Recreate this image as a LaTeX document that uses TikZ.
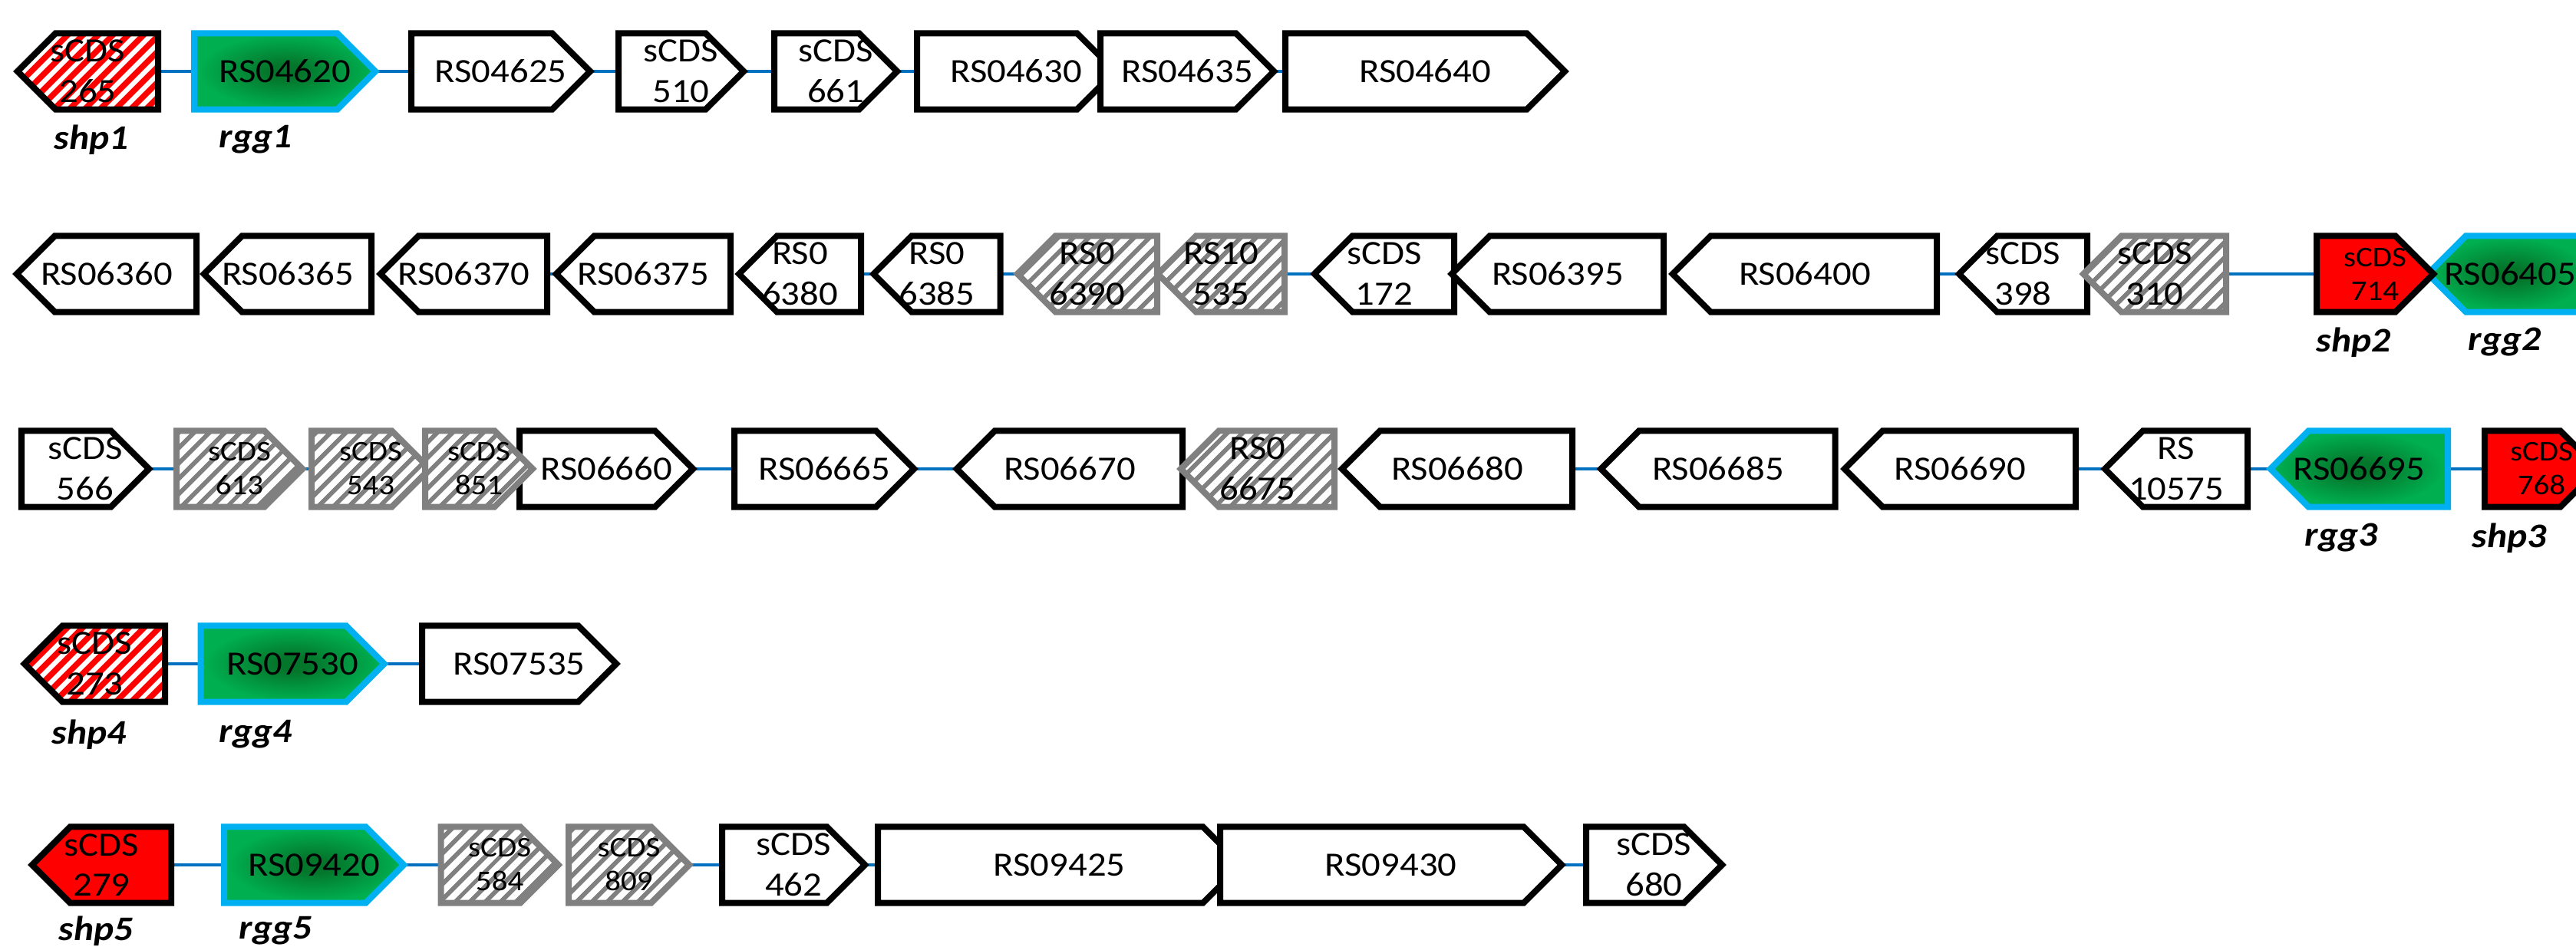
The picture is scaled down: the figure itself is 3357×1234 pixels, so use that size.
\documentclass[tikz,border=0pt]{standalone}
\usepackage{fontspec}
\setmainfont{Carlito}[FakeStretch=1.1]
\usetikzlibrary{patterns.meta,backgrounds}

\definecolor{linkblue}{RGB}{0,112,192}
\definecolor{rggline}{RGB}{0,176,240}
\definecolor{rgglight}{RGB}{0,176,80}
\definecolor{rggdark}{RGB}{4,118,44}
\definecolor{hatchgray}{RGB}{128,128,128}
\pgfdeclareradialshading{rggglow}{\pgfpoint{0bp}{0bp}}{color(0bp)=(rggdark); color(5bp)=(rggdark); color(24bp)=(rgglight); color(50bp)=(rgglight)}

% gene arrows: a rectangle whose pointed end takes half the height,
% so that the text sits in the middle of the whole arrow
\makeatletter
\def\gene@corners{%
  \southwest\edef\gene@l{\the\pgf@x}\edef\gene@b{\the\pgf@y}%
  \northeast\edef\gene@r{\the\pgf@x}\edef\gene@t{\the\pgf@y}%
  \pgf@y=\gene@b\advance\pgf@y by\gene@t\pgf@y=.5\pgf@y\edef\gene@m{\the\pgf@y}}
\pgfdeclareshape{genefwd}{%
  \inheritsavedanchors[from=rectangle]%
  \inheritanchorborder[from=rectangle]%
  \inheritanchor[from=rectangle]{center}%
  \inheritanchor[from=rectangle]{west}%
  \inheritanchor[from=rectangle]{east}%
  \inheritanchor[from=rectangle]{north}%
  \inheritanchor[from=rectangle]{south}%
  \backgroundpath{%
    \gene@corners
    \pgf@x=\gene@r\advance\pgf@x by-\gene@t\advance\pgf@x by\gene@m\edef\gene@s{\the\pgf@x}%
    \pgfpathmoveto{\pgfqpoint{\gene@l}{\gene@b}}%
    \pgfpathlineto{\pgfqpoint{\gene@s}{\gene@b}}%
    \pgfpathlineto{\pgfqpoint{\gene@r}{\gene@m}}%
    \pgfpathlineto{\pgfqpoint{\gene@s}{\gene@t}}%
    \pgfpathlineto{\pgfqpoint{\gene@l}{\gene@t}}%
    \pgfpathclose}%
}
\pgfdeclareshape{generev}{%
  \inheritsavedanchors[from=rectangle]%
  \inheritanchorborder[from=rectangle]%
  \inheritanchor[from=rectangle]{center}%
  \inheritanchor[from=rectangle]{west}%
  \inheritanchor[from=rectangle]{east}%
  \inheritanchor[from=rectangle]{north}%
  \inheritanchor[from=rectangle]{south}%
  \backgroundpath{%
    \gene@corners
    \pgf@x=\gene@l\advance\pgf@x by\gene@t\advance\pgf@x by-\gene@m\edef\gene@s{\the\pgf@x}%
    \pgfpathmoveto{\pgfqpoint{\gene@r}{\gene@b}}%
    \pgfpathlineto{\pgfqpoint{\gene@s}{\gene@b}}%
    \pgfpathlineto{\pgfqpoint{\gene@l}{\gene@m}}%
    \pgfpathlineto{\pgfqpoint{\gene@s}{\gene@t}}%
    \pgfpathlineto{\pgfqpoint{\gene@r}{\gene@t}}%
    \pgfpathclose}%
}
\makeatother

\tikzset{
  gene/.style={draw=black, line width=0.08cm, fill=white, inner sep=0pt, outer sep=0pt,
    minimum height=0.99cm, align=center, font=\fontsize{12.6}{15}\selectfont},
  fwd/.style={gene, shape=genefwd, anchor=west, minimum width=#1},
  rev/.style={gene, shape=generev, anchor=east, minimum width=#1},
  hatch/.style={draw=hatchgray, preaction={fill=white},
    pattern={Lines[angle=45,distance=0.14cm,line width=0.06cm]}, pattern color=hatchgray},
  shphatch/.style={preaction={fill=red},
    pattern={Lines[angle=45,distance=0.14cm,line width=0.065cm]}, pattern color=white},
  shp/.style={fill=red},
  rgg/.style={draw=rggline, shade, shading=rggglow},
  smalltxt/.style={font=\fontsize{10.6}{12.5}\selectfont},
  link/.style={draw=linkblue, line width=0.045cm},
  genelabel/.style={inner sep=0pt, font=\fontsize{12.8}{15}\selectfont\bfseries\itshape}
}

\begin{document}
\begin{tikzpicture}[x=0.01cm, y=-0.01cm]
\useasboundingbox (0,0) rectangle (3357,1234);

% locus 1
\node[rev=1.83cm, shphatch] (shp1) at (206,93) {sCDS\\265};
\node[fwd=2.36cm, rgg] (rgg1) at (253,93) {RS04620};
\node[fwd=2.33cm] (rs04625) at (536,93) {RS04625};
\node[fwd=1.63cm] (s510) at (806,93) {sCDS\\510};
\node[fwd=1.60cm] (s661) at (1009,93) {sCDS\\661};
\node[fwd=2.58cm] (rs04630) at (1195,93) {RS04630};
\node[fwd=2.26cm] (rs04635) at (1434,93) {RS04635};
\node[fwd=3.64cm] (rs04640) at (1675,93) {RS04640};
\node[genelabel] (shp1lab) at (119,182) {shp1};
\node[genelabel] (rgg1lab) at (333,182) {rgg1};

% locus 2
\node[rev=2.34cm] (rs06360) at (256,357) {RS06360};
\node[rev=2.18cm] (rs06365) at (484,357) {RS06365};
\node[rev=2.17cm] (rs06370) at (713,357) {RS06370};
\node[rev=2.27cm] (rs06375) at (952,357) {RS06375};
\node[rev=1.59cm] (rs06380) at (1122,357) {RS0\\6380};
\node[rev=1.65cm] (rs06385) at (1303.5,357) {RS0\\6385};
\node[rev=1.82cm, hatch] (rs06390) at (1508,357) {RS0\\6390};
\node[rev=1.65cm, hatch] (rs10535) at (1674,357) {RS10\\535};
\node[rev=1.82cm] (s172) at (1895,357) {sCDS\\172};
\node[rev=2.76cm] (rs06395) at (2168,357) {RS06395};
\node[rev=3.44cm] (rs06400) at (2524,357) {RS06400};
\node[rev=1.67cm] (s398) at (2720,357) {sCDS\\398};
\node[rev=1.86cm, hatch] (s310) at (2901,357) {sCDS\\310};
\node[rev=2.14cm, rgg] (rgg2) at (3378,357) {RS06405};
\node[fwd=1.52cm, shp, smalltxt] (shp2) at (3019,357) {sCDS\\714};
\node[genelabel] (shp2lab) at (3067,446) {shp2};
\node[genelabel] (rgg2lab) at (3264,446) {rgg2};

% locus 3
\node[fwd=1.66cm] (s566) at (28,611) {sCDS\\566};
\node[fwd=1.64cm, hatch, smalltxt] (s613) at (230,611) {sCDS\\613};
\node[fwd=1.54cm, hatch, smalltxt] (s543) at (406,611) {sCDS\\543};
\node[fwd=2.26cm] (rs06660) at (677,611) {RS06660};
\node[fwd=1.40cm, hatch, smalltxt] (s851) at (554,611) {sCDS\\851};
\node[fwd=2.34cm] (rs06665) at (957,611) {RS06665};
\node[rev=2.94cm] (rs06670) at (1541,611) {RS06670};
\node[rev=2.00cm, hatch] (rs06675) at (1739,611) {RS0\\6675};
\node[rev=3.00cm] (rs06680) at (2049,611) {RS06680};
\node[rev=3.05cm] (rs06685) at (2391.5,611) {RS06685};
\node[rev=3.01cm] (rs06690) at (2705,611) {RS06690};
\node[rev=1.86cm] (rs10575) at (2929,611) {RS\\10575};
\node[rev=2.31cm, rgg] (rgg3) at (3190,611) {RS06695};
\node[fwd=1.48cm, shp, smalltxt] (shp3) at (3238,611) {sCDS\\768};
\node[genelabel] (rgg3lab) at (3051,701) {rgg3};
\node[genelabel] (shp3lab) at (3270,701) {shp3};

% locus 4
\node[rev=1.83cm, shphatch] (shp4) at (215,865) {sCDS\\273};
\node[fwd=2.39cm, rgg] (rgg4) at (261.5,865) {RS07530};
\node[fwd=2.53cm] (rs07535) at (550,865) {RS07535};
\node[genelabel] (shp4lab) at (116,957) {shp4};
\node[genelabel] (rgg4lab) at (333,957) {rgg4};

% locus 5
\node[rev=1.81cm, shp] (shp5) at (223,1127) {sCDS\\279};
\node[fwd=2.34cm, rgg] (rgg5) at (292,1127) {RS09420};
\node[fwd=1.53cm, hatch, smalltxt] (s584) at (574.6,1127) {sCDS\\584};
\node[fwd=1.57cm, hatch, smalltxt] (s809) at (741,1127) {sCDS\\809};
\node[fwd=1.86cm] (s462) at (941,1127) {sCDS\\462};
\node[fwd=4.73cm] (rs09425) at (1144,1127) {RS09425};
\node[fwd=4.45cm] (rs09430) at (1590,1127) {RS09430};
\node[fwd=1.77cm] (s680) at (2067,1127) {sCDS\\680};
\node[genelabel] (shp5lab) at (125,1213) {shp5};
\node[genelabel] (rgg5lab) at (359,1213) {rgg5};

% intergenic links
\begin{scope}[on background layer]
\draw[link] (shp1.east) -- (rgg1.west);
\draw[link] (rgg1.east) -- (rs04625.west);
\draw[link] (rs04625.east) -- (s510.west);
\draw[link] (s510.east) -- (s661.west);
\draw[link] (s661.east) -- (rs04630.west);
\draw[link] (rs04635.east) -- (rs04640.west);
\draw[link] (rs06370.east) -- (rs06375.west);
\draw[link] (rs06380.east) -- (rs06385.west);
\draw[link] (rs06385.east) -- (rs06390.west);
\draw[link] (rs10535.east) -- (s172.west);
\draw[link] (rs06400.east) -- (s398.west);
\draw[link] (s310.east) -- (shp2.west);
\draw[link] (s566.east) -- (s613.west);
\draw[link] (s613.east) -- (s543.west);
\draw[link] (rs06660.east) -- (rs06665.west);
\draw[link] (rs06665.east) -- (rs06670.west);
\draw[link] (rs06680.east) -- (rs06685.west);
\draw[link] (rs06690.east) -- (rs10575.west);
\draw[link] (rs10575.east) -- (rgg3.west);
\draw[link] (rgg3.east) -- (shp3.west);
\draw[link] (shp4.east) -- (rgg4.west);
\draw[link] (rgg4.east) -- (rs07535.west);
\draw[link] (shp5.east) -- (rgg5.west);
\draw[link] (rgg5.east) -- (s584.west);
\draw[link] (s809.east) -- (s462.west);
\draw[link] (s462.east) -- (rs09425.west);
\draw[link] (rs09430.east) -- (s680.west);
\end{scope}
\end{tikzpicture}
\end{document}
